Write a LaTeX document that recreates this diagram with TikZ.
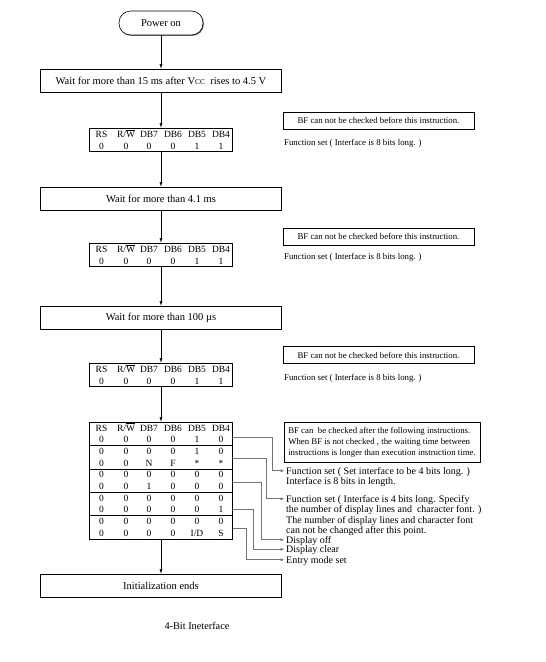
\documentclass[tikz,border=0pt]{standalone}
\usepackage{fontspec}
\setmainfont{Liberation Serif}
\usetikzlibrary{arrows.meta,shadows}
\newcommand\RWbar{R/$\overline{\hbox{W}}$}
\newcommand\trow[8]{%
  \node[cell] (#1a) at (101.5,#2) {#3};
  \node[cell] (#1b) at (126,#2) {#4};
  \node[cell] (#1c) at (149,#2) {#5};
  \node[cell] (#1d) at (173,#2) {#6};
  \node[cell] (#1e) at (197,#2) {#7};
  \node[cell] (#1f) at (221,#2) {#8};}
\begin{document}
\begin{tikzpicture}[x=1pt,y=-1pt,
  shad/.style={drop shadow={shadow xshift=0.9pt,shadow yshift=-0.9pt,fill=black!55,opacity=1}},
  box/.style={draw,line width=0.6pt,fill=white,shad,minimum height=23pt,minimum width=241pt,inner sep=0pt,font=\fontsize{10.5}{12}\selectfont},
  tbl/.style={draw,line width=0.6pt,fill=white,shad,minimum width=143pt,inner sep=0pt},
  cell/.style={anchor=base,inner sep=0pt,font=\fontsize{9.5}{10}\selectfont},
  notebox/.style={draw,line width=0.6pt,fill=white,shad,inner sep=0pt,font=\fontsize{8.8}{11}\selectfont},
  note/.style={anchor=base west,inner sep=0pt,font=\fontsize{8.8}{10}\selectfont},
  lnote/.style={anchor=base west,inner sep=0pt,font=\fontsize{10}{10}\selectfont},
  flow/.style={line width=0.5pt,-{Latex[length=4.5pt,width=3pt]}},
  conn/.style={draw=black!55,line width=0.8pt,-{Latex[length=4pt,width=3pt,fill=black!80]}}]
\useasboundingbox (0,0) rectangle (546,662);
% main column
\node[box,minimum width=84pt,minimum height=24pt,rounded corners=11.5pt] (pwr) at (161,23) {Power on};
\node[box] (w15) at (161,80.5) {Wait for more than 15 ms after V{\fontsize{7.5}{8}\selectfont CC}\ \ rises to 4.5 V};
\node[tbl,minimum height=23.4pt] (t1) at (161,139.7) {};
\trow{ta}{137.8}{RS}{\RWbar}{DB7}{DB6}{DB5}{DB4}
\trow{tb}{149.5}{0}{0}{0}{0}{1}{1}
\node[box] (w41) at (161,198.5) {Wait for more than 4.1 ms};
\node[tbl,minimum height=23.4pt] (t2) at (161,254.7) {};
\trow{tc}{252.8}{RS}{\RWbar}{DB7}{DB6}{DB5}{DB4}
\trow{td}{264.5}{0}{0}{0}{0}{1}{1}
\node[box] (w100) at (161,317.5) {Wait for more than 100 µs};
\node[tbl,minimum height=23.4pt] (t3) at (161,374.7) {};
\trow{te}{372.8}{RS}{\RWbar}{DB7}{DB6}{DB5}{DB4}
\trow{tf}{384.5}{0}{0}{0}{0}{1}{1}
% big table
\node[tbl,minimum height=117pt] (bt) at (161,480.5) {};
\trow{ra}{431.0}{RS}{\RWbar}{DB7}{DB6}{DB5}{DB4}
\trow{rb}{442.7}{0}{0}{0}{0}{1}{0}
\trow{rc}{454.4}{0}{0}{0}{0}{1}{0}
\trow{rd}{466.1}{0}{0}{N}{F}{*}{*}
\trow{re}{477.8}{0}{0}{0}{0}{0}{0}
\trow{rf}{489.5}{0}{0}{1}{0}{0}{0}
\trow{rg}{501.2}{0}{0}{0}{0}{0}{0}
\trow{rh}{512.9}{0}{0}{0}{0}{0}{1}
\trow{ri}{524.6}{0}{0}{0}{0}{0}{0}
\trow{rj}{536.3}{0}{0}{0}{0}{I/D}{S}
\draw[line width=0.6pt] (89.5,445.4) -- (232.5,445.4);
\draw[line width=0.6pt] (89.5,468.8) -- (232.5,468.8);
\draw[line width=0.6pt] (89.5,492.2) -- (232.5,492.2);
\draw[line width=1.5pt] (89.5,515.6) -- (232.5,515.6);
\node[box] (ie) at (161,585.5) {Initialization ends};
% flow arrows
\draw[flow] (pwr.south) -- (w15.north);
\draw[flow] (w15.south) -- (t1.north);
\draw[flow] (t1.south) -- (w41.north);
\draw[flow] (w41.south) -- (t2.north);
\draw[flow] (t2.south) -- (w100.north);
\draw[flow] (w100.south) -- (t3.north);
\draw[flow] (t3.south) -- (bt.north);
\draw[flow] (bt.south) -- (ie.north);
% side notes
\node[notebox,minimum width=191pt,minimum height=17pt] (bf1) at (378.5,120.5) {BF can not be checked before this instruction.};
\node[note] (fs1) at (284,145) {Function set ( Interface is 8 bits long. )};
\node[notebox,minimum width=191pt,minimum height=17pt] (bf2) at (378.5,236.5) {BF can not be checked before this instruction.};
\node[note] (fs2) at (284,259) {Function set ( Interface is 8 bits long. )};
\node[notebox,minimum width=191pt,minimum height=17pt] (bf3) at (378.5,355) {BF can not be checked before this instruction.};
\node[note] (fs3) at (284,380) {Function set ( Interface is 8 bits long. )};
\node[notebox,minimum width=196pt,minimum height=40pt,align=left] (bf4) at (382,442) {BF can\ \ be checked after the following instructions.\\When BF is not checked , the waiting time between\\instructions is longer than execution instruction time.};
% right texts
\node[lnote] (n1) at (286,474) {Function set ( Set interface to be 4 bits long. )};
\node[lnote] (n1b) at (286,484) {Interface is 8 bits in length.};
\node[lnote] (n2) at (286,502) {Function set ( Interface is 4 bits long. Specify};
\node[lnote] (n2b) at (286,512.5) {the number of display lines and\ \ character font. )};
\node[lnote] (n2c) at (286,523) {The number of display lines and character font};
\node[lnote] (n2d) at (286,533.5) {can not be changed after this point.};
\node[lnote] (n3) at (286,543) {Display off};
\node[lnote] (n4) at (286,552.5) {Display clear};
\node[lnote] (n5) at (286,563) {Entry mode set};
% connectors
\coordinate (c1) at (232.5,437);
\coordinate (c2) at (232.5,458);
\coordinate (c3) at (232.5,482);
\coordinate (c4) at (232.5,509);
\coordinate (c5) at (232.5,528);
\draw[conn] (c1) -- (272,437) |- ([xshift=-1.5pt,yshift=3.2pt]n1.base west);
\draw[conn] (c2) -- (266,458) |- ([xshift=-1.5pt,yshift=3.2pt]n2.base west);
\draw[conn] (c3) -- (261,482) |- ([xshift=-1.5pt,yshift=3.2pt]n3.base west);
\draw[conn] (c4) -- (253,509) |- ([xshift=-1.5pt,yshift=3.2pt]n4.base west);
\draw[conn] (c5) -- (246,528) |- ([xshift=-1.5pt,yshift=3.2pt]n5.base west);
% caption
\node[inner sep=0pt,font=\fontsize{10.3}{12}\selectfont] (cap) at (197,626) {4-Bit Ineterface};
\end{tikzpicture}
\end{document}
